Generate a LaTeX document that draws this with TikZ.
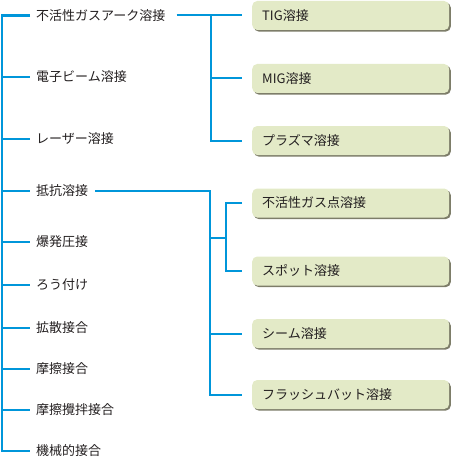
\documentclass[tikz,border=0pt]{standalone}
\usepackage{fontspec}
\setmainfont{Noto Sans CJK JP}
\usetikzlibrary{shadows}
\definecolor{lineblue}{RGB}{0,150,218}
\definecolor{boxfill}{RGB}{227,234,199}
\definecolor{boxshadow}{RGB}{125,125,105}
\definecolor{txt}{RGB}{35,31,32}
\begin{document}
\begin{tikzpicture}[x=1pt,y=-1pt,
  conn/.style={draw=lineblue,line width=2pt},
  trunkline/.style={draw=lineblue,line width=2.4pt},
  lbl/.style={anchor=west,inner xsep=6pt,inner ysep=0pt,
    font=\fontsize{13}{15}\selectfont,text=txt,text height=11.3pt,text depth=1.5pt},
  leaf/.style={fill=boxfill,rounded corners=5pt,minimum width=197pt,
    minimum height=29pt,text width=177pt,align=left,inner xsep=10pt,inner ysep=0pt,
    anchor=west,font=\fontsize{13}{15}\selectfont,text=txt,text height=11.3pt,text depth=1.5pt,
    drop shadow={shadow xshift=1.6pt,shadow yshift=-1.6pt,fill=boxshadow,opacity=1}}]
\useasboundingbox (0,0) rectangle (451,468);

% left labels
\node[lbl] (l1) at (30,15.5) {不活性ガスアーク溶接};
\node[lbl] (l2) at (30,77) {電子ビーム溶接};
\node[lbl] (l3) at (30,139) {レーザー溶接};
\node[lbl] (l4) at (30,190.5) {抵抗溶接};
\node[lbl] (l5) at (30,241.5) {爆発圧接};
\node[lbl] (l6) at (30,285) {ろう付け};
\node[lbl] (l7) at (30,327.5) {拡散接合};
\node[lbl] (l8) at (30,368.5) {摩擦接合};
\node[lbl] (l9) at (30,410) {摩擦攪拌接合};
\node[lbl] (l10) at (30,451) {機械的接合};

% boxes
\node[leaf] (b1) at (252,15.5) {TIG溶接};
\node[leaf] (b2) at (252,78.5) {MIG溶接};
\node[leaf] (b3) at (252,140.5) {プラズマ溶接};
\node[leaf] (b4) at (252,203) {不活性ガス点溶接};
\node[leaf] (b5) at (252,271) {スポット溶接};
\node[leaf] (b6) at (252,333.5) {シーム溶接};
\node[leaf] (b7) at (252,394.5) {フラッシュバット溶接};

\coordinate (trunk) at (2,0);
\coordinate (j1) at (211,0);
\coordinate (j2) at (210,0);
\coordinate (j3) at (226,0);
\coordinate (mid) at (226,237.5);

% trunk
\draw[trunkline] (l1.west) -| (trunk |- l10.west) -- (l10.west);
\foreach \i in {2,...,9}{\draw[conn] (l\i.west -| trunk) -- (l\i.west);}

% group 1
\draw[conn] ([xshift=5pt]l1.east) -- ([xshift=-10pt]b1.west);
\draw[conn] (j1 |- b1.west) |- ([xshift=-10pt]b3.west);
\draw[conn] (j1 |- b2.west) -- ([xshift=-10pt]b2.west);

% group 2
\draw[conn] ([xshift=1pt]l4.east) -| (j2 |- b7.west) -- ([xshift=-10pt]b7.west);
\draw[conn] (j2 |- b6.west) -- ([xshift=-10pt]b6.west);
\draw[conn] (j2 |- mid) -- (mid);
\draw[conn] ([xshift=-10pt]b4.west) -| (j3 |- b5.west) -- ([xshift=-10pt]b5.west);
\end{tikzpicture}
\end{document}
